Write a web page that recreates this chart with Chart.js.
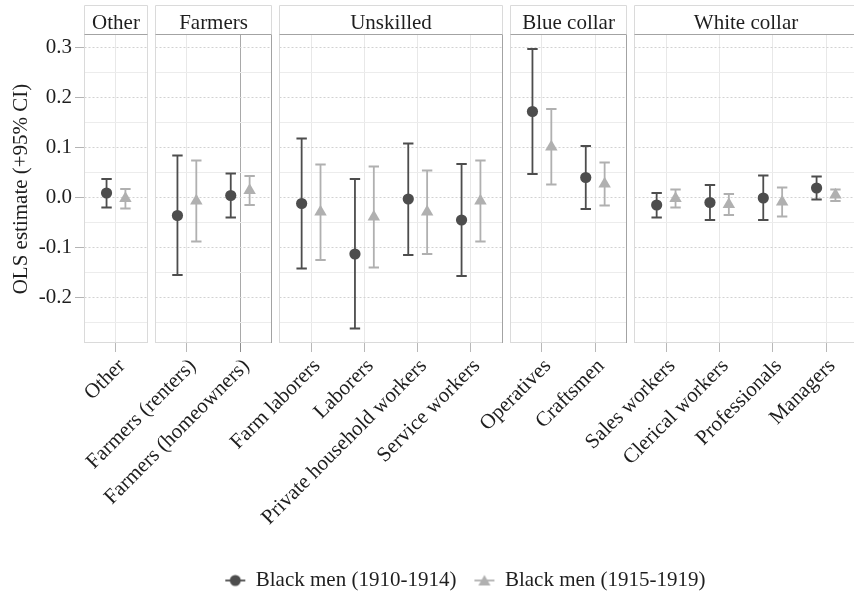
<!DOCTYPE html>
<html>
<head>
<meta charset="utf-8">
<script src="https://cdn.jsdelivr.net/npm/chart.js@4/dist/chart.umd.min.js"></script>
<style>
  html, body { margin: 0; padding: 0; background: #ffffff; }
  #wrap { width: 854px; height: 597px; }
</style>
</head>
<body>
<div id="wrap"><canvas id="chart" width="854" height="597"></canvas></div>
<script>
// Occupation groups (one facet each) and the occupations inside them
const groups = ['Other', 'Farmers', 'Unskilled', 'Blue collar', 'White collar'];
const groupSizes = [1, 2, 4, 2, 4];
const categories = [
  'Other',
  'Farmers (renters)', 'Farmers (homeowners)',
  'Farm laborers', 'Laborers', 'Private household workers', 'Service workers',
  'Operatives', 'Craftsmen',
  'Sales workers', 'Clerical workers', 'Professionals', 'Managers'
];
const seriesNames = ['Black men (1910-1914)', 'Black men (1915-1919)'];

// OLS point estimates with lower / upper 95% CI bounds
const est1910 = [0.008, -0.037, 0.003, -0.013, -0.114, -0.004, -0.046, 0.171, 0.039, -0.016, -0.011, -0.002, 0.018];
const lo1910  = [-0.021, -0.156, -0.041, -0.143, -0.263, -0.116, -0.158, 0.046, -0.024, -0.041, -0.046, -0.046, -0.005];
const hi1910  = [0.036, 0.083, 0.047, 0.117, 0.036, 0.107, 0.066, 0.296, 0.102, 0.008, 0.024, 0.043, 0.041];
const est1915 = [-0.003, -0.008, 0.013, -0.030, -0.040, -0.030, -0.008, 0.100, 0.026, -0.003, -0.015, -0.010, 0.004];
const lo1915  = [-0.023, -0.089, -0.016, -0.126, -0.141, -0.114, -0.089, 0.025, -0.017, -0.021, -0.036, -0.039, -0.008];
const hi1915  = [0.016, 0.073, 0.042, 0.065, 0.061, 0.053, 0.073, 0.176, 0.069, 0.015, 0.006, 0.019, 0.015];

const yTicks = [-0.2, -0.1, 0.0, 0.1, 0.2, 0.3];

// ---- layout of the facets along one linear x axis (units = category slots) ----
const EXPAND = 0.6;   // space before first / after last category in a panel
const GAP = 0.13;     // white gap between panels
const DODGE = 0.177;  // horizontal offset of the two series
const X_MAX = 14.31;  // visible part of the x axis
const Y_MIN = -0.292, Y_MAX = 0.324;

const FONT_SIZE = 21;
const LEGEND_PAD = 18;
const PLOT_BOTTOM = 343;   // pixel row of the panels' lower edge
const PAD_BOTTOM = -4;

const panels = [];
const catX = [];
(function buildPanels() {
  let start = 0;
  groups.forEach((name, gi) => {
    const width = groupSizes[gi] - 1 + 2 * EXPAND;
    panels.push({ name, x0: start, x1: start + width });
    for (let j = 0; j < groupSizes[gi]; j++) catX.push(start + EXPAND + j);
    start += width + GAP;
  });
})();

const DARK = '#4d4d4d';
const LIGHT = '#b0b0b0';
const TEXT = '#1e1e1e';
const FONT = "'Liberation Serif', 'Times New Roman', Times, serif";

// legend keys: a short horizontal error-bar stroke with the point symbol
function makeKey(shape, color) {
  const c = document.createElement('canvas');
  c.width = 22; c.height = 18;
  const g = c.getContext('2d');
  g.strokeStyle = color; g.lineWidth = 1.8;
  g.beginPath(); g.moveTo(1, 9); g.lineTo(21, 9); g.stroke();
  g.fillStyle = color;
  g.beginPath();
  if (shape === 'circle') {
    g.arc(11, 9, 5.5, 0, Math.PI * 2);
  } else {
    const r = 7, s = Math.sin(Math.PI / 3);
    g.moveTo(11, 10.5 - r);
    g.lineTo(11 + r * s, 10.5 + r / 2);
    g.lineTo(11 - r * s, 10.5 + r / 2);
    g.closePath();
  }
  g.fill();
  return c;
}
const legendKeys = [makeKey('circle', DARK), makeKey('triangle', LIGHT)];

// facet strips, panel frames and horizontal grid drawn per panel
const facetPanels = {
  id: 'facetPanels',
  beforeDatasetsDraw(chart, args, o) {
    const { ctx, chartArea: a, scales: { x, y } } = chart;
    const step = yTicks[1] - yTicks[0];
    const minor = [];
    for (let v = yTicks[0] - step / 2; v <= y.max; v += step) {
      if (v >= y.min) minor.push(v);
    }
    const stripTop = a.top - o.stripHeight;
    const hline = (x0, x1, py) => { ctx.beginPath(); ctx.moveTo(x0, py); ctx.lineTo(x1, py); ctx.stroke(); };
    const vline = (px, y0, y1) => { ctx.beginPath(); ctx.moveTo(px, y0); ctx.lineTo(px, y1); ctx.stroke(); };
    ctx.save();
    ctx.lineWidth = 1;
    panels.forEach((p, i) => {
      const x0 = Math.round(x.getPixelForValue(p.x0)) + 0.5;
      const x1 = Math.round(x.getPixelForValue(p.x1)) - 0.5;
      // minor grid
      ctx.setLineDash([]);
      ctx.strokeStyle = o.minorColor;
      minor.forEach(v => hline(x0, x1, Math.round(y.getPixelForValue(v)) + 0.5));
      // major grid
      ctx.setLineDash([2, 2]);
      ctx.strokeStyle = o.majorColor;
      yTicks.forEach(v => hline(x0, x1, Math.round(y.getPixelForValue(v)) + 0.5));
      ctx.setLineDash([]);
      // frame
      ctx.strokeStyle = o.frameColor;
      vline(x0, stripTop + 0.5, a.bottom);
      vline(x1, stripTop + 0.5, a.top);
      hline(x0, x1, stripTop + 0.5);
      hline(x0, x1, a.bottom - 0.5);
      ctx.strokeStyle = i === 0 || i === panels.length - 1 ? o.frameColor : o.edgeColor;
      vline(x1, a.top, a.bottom);
      // strip
      ctx.strokeStyle = o.edgeColor;
      hline(x0, x1, a.top - 0.5);
      ctx.fillStyle = TEXT;
      ctx.font = `${o.fontSize}px ${FONT}`;
      ctx.textAlign = 'center';
      ctx.textBaseline = 'alphabetic';
      ctx.fillText(p.name, (x.getPixelForValue(p.x0) + x.getPixelForValue(p.x1)) / 2, a.top - 6.5);
    });
    ctx.restore();
  }
};

// vertical CI whiskers with caps, drawn beneath the point symbols
const errorBars = {
  id: 'errorBars',
  beforeDatasetsDraw(chart, args, o) {
    const { ctx, scales: { x, y } } = chart;
    ctx.save();
    ctx.lineWidth = o.lineWidth;
    chart.data.datasets.forEach(ds => {
      ctx.strokeStyle = ds.backgroundColor;
      ds.data.forEach((p, i) => {
        const px = x.getPixelForValue(p.x);
        const yl = y.getPixelForValue(ds.errLow[i]);
        const yh = y.getPixelForValue(ds.errHigh[i]);
        ctx.beginPath();
        ctx.moveTo(px, yl); ctx.lineTo(px, yh);
        ctx.moveTo(px - o.cap, yl); ctx.lineTo(px + o.cap, yl);
        ctx.moveTo(px - o.cap, yh); ctx.lineTo(px + o.cap, yh);
        ctx.stroke();
      });
    });
    ctx.restore();
  }
};

new Chart(document.getElementById('chart'), {
  type: 'scatter',
  data: {
    datasets: [
      {
        label: seriesNames[0],
        data: categories.map((c, i) => ({ x: catX[i] - DODGE, y: est1910[i] })),
        errLow: lo1910, errHigh: hi1910,
        pointStyle: 'circle', pointRadius: 5.6,
        backgroundColor: DARK, borderColor: DARK, borderWidth: 0
      },
      {
        label: seriesNames[1],
        data: categories.map((c, i) => ({ x: catX[i] + DODGE, y: est1915[i] })),
        errLow: lo1915, errHigh: hi1915,
        pointStyle: 'triangle', pointRadius: 7.2,
        backgroundColor: LIGHT, borderColor: LIGHT, borderWidth: 0
      }
    ]
  },
  options: {
    responsive: false,
    animation: false,
    events: [],
    layout: { padding: { top: 35, left: 0, right: 0, bottom: PAD_BOTTOM } },
    scales: {
      x: {
        type: 'linear', min: 0, max: X_MAX, bounds: 'data',
        afterBuildTicks: s => { s.ticks = catX.map(v => ({ value: v })); },
        afterFit: s => {
          // legend block = font size + padding + 10 (Chart.js legend metrics)
          const legendH = FONT_SIZE + LEGEND_PAD + 10;
          s.height = s.chart.height - PAD_BOTTOM - legendH - PLOT_BOTTOM;
          s.paddingLeft = 0; s.paddingRight = 0;
        },
        ticks: {
          autoSkip: false, minRotation: 45, maxRotation: 45, padding: 2, labelOffset: 6,
          color: TEXT, font: { family: FONT, size: FONT_SIZE },
          callback: (v, i) => categories[i]
        },
        grid: {
          color: c => (c.index === 2 ? '#a9a9a9' : '#e8e8e8'),
          tickColor: c => (c.index === 2 ? '#8c8c8c' : '#b8b8b8'),
          tickLength: 9, lineWidth: 1, offset: false
        },
        border: { display: false }
      },
      y: {
        min: Y_MIN, max: Y_MAX, bounds: 'data',
        afterBuildTicks: s => { s.ticks = yTicks.map(v => ({ value: v })); },
        afterFit: s => { s.width = 84; },
        ticks: {
          padding: 3, color: TEXT, font: { family: FONT, size: FONT_SIZE },
          callback: v => Number(v).toFixed(1)
        },
        grid: { drawOnChartArea: false, drawTicks: true, tickLength: 9, tickColor: '#b3b3b3' },
        border: { display: false },
        title: {
          display: true, text: 'OLS estimate (+95% CI)', color: TEXT,
          font: { family: FONT, size: FONT_SIZE }, padding: { top: 8.4, bottom: 0 }
        }
      }
    },
    plugins: {
      legend: {
        position: 'bottom', fullSize: false,
        labels: {
          usePointStyle: true, boxWidth: 20, boxHeight: 8, pointStyleWidth: 20, padding: LEGEND_PAD,
          color: TEXT, font: { family: FONT, size: FONT_SIZE },
          generateLabels: chart => Chart.defaults.plugins.legend.labels.generateLabels(chart)
            .map((item, i) => Object.assign(item, { pointStyle: legendKeys[i] }))
        }
      },
      tooltip: { enabled: false },
      facetPanels: {
        stripHeight: 30, fontSize: FONT_SIZE,
        minorColor: '#ececec', majorColor: '#d2d2d2',
        frameColor: '#dadada', edgeColor: '#a3a3a3'
      },
      errorBars: { lineWidth: 1.8, cap: 5.2 }
    }
  },
  plugins: [facetPanels, errorBars]
});
</script>
</body>
</html>
